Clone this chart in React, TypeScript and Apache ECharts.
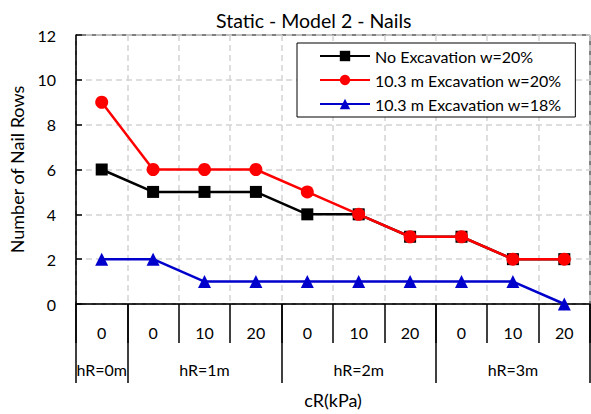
import { useEffect, useRef } from 'react';
import * as echarts from 'echarts';

// cR value under each point, and the hR group each run of points belongs to
const cRLabels = ['0', '0', '10', '20', '0', '10', '20', '0', '10', '20'];
const hRGroups = ['hR=0m', 'hR=1m', 'hR=2m', 'hR=3m'];
const hRBounds = [0, 1, 4, 7, 10];
const hRCenters = [0.5, 2.5, 5.5, 8.5];

const noExcavation20 = [6, 5, 5, 5, 4, 4, 3, 3, 2, 2];
const excavation20 = [9, 6, 6, 6, 5, 4, 3, 3, 2, 2];
const excavation18 = [2, 2, 1, 1, 1, 1, 1, 1, 1, 0];

const seriesNames = ['No Excavation w=20%', '10.3 m Excavation w=20%', '10.3 m Excavation w=18%'];

const FONT = 'Lato, "Noto Sans", sans-serif';

export default function App() {
  const ref = useRef<HTMLDivElement>(null);

  useEffect(() => {
    document.body.style.margin = '0';
    if (!ref.current) return;
    const chart = echarts.init(ref.current, undefined, { renderer: 'svg' });
    const keys = cRLabels.map((_, i) => String(i));

    chart.setOption({
      animation: false,
      backgroundColor: '#fff',
      textStyle: { fontFamily: FONT },
      title: {
        text: 'Static - Model 2 - Nails',
        left: 211,
        top: 5,
        textStyle: { fontFamily: FONT, fontSize: 19.5, fontWeight: 'normal', color: '#000' },
      },
      legend: {
        orient: 'vertical',
        left: 297,
        top: 43,
        padding: [5, 14, 5, 22],
        itemGap: 8,
        itemWidth: 50,
        itemHeight: 13,
        backgroundColor: '#fff',
        borderColor: '#000',
        borderWidth: 1,
        textStyle: { fontFamily: FONT, fontSize: 16, color: '#000' },
        data: seriesNames,
      },
      grid: {
        left: 75,
        right: 1,
        top: 35,
        bottom: 110,
        show: true,
        borderColor: '#000',
        borderWidth: 1,
        backgroundColor: 'transparent',
      },
      xAxis: [
        {
          type: 'category',
          data: keys,
          boundaryGap: true,
          name: 'cR(kPa)',
          nameLocation: 'middle',
          nameGap: 87,
          nameTextStyle: { fontFamily: FONT, fontSize: 18, color: '#000' },
          axisLine: { lineStyle: { color: '#000', width: 1.5 } },
          axisTick: { show: true, interval: 0, length: 39, lineStyle: { color: '#000', width: 1.5 } },
          axisLabel: {
            interval: 0,
            margin: 20,
            fontFamily: FONT,
            fontSize: 16,
            color: '#000',
            formatter: (_v: string, i: number) => cRLabels[i],
          },
          splitLine: { show: true, interval: 0, lineStyle: { color: '#d4d4d4', type: [6, 4], width: 1.5 } },
        },
        {
          type: 'value',
          min: 0,
          max: 10,
          position: 'bottom',
          axisLine: { show: false },
          splitLine: { show: false },
          axisTick: {
            show: true,
            customValues: hRBounds,
            length: 79,
            lineStyle: { color: '#000', width: 1.5 },
          },
          axisLabel: {
            customValues: hRCenters,
            margin: 57,
            fontFamily: FONT,
            fontSize: 16,
            color: '#000',
            formatter: (v: number) => hRGroups[hRCenters.indexOf(v)] ?? '',
          },
        },
      ],
      yAxis: {
        type: 'value',
        min: 0,
        max: 12,
        interval: 2,
        name: 'Number of Nail Rows',
        nameLocation: 'middle',
        nameGap: 50,
        nameTextStyle: { fontFamily: FONT, fontSize: 18, color: '#000' },
        axisLine: { show: true, lineStyle: { color: '#000', width: 1.5 } },
        axisTick: { show: true, inside: true, length: 6, lineStyle: { color: '#000', width: 1.5 } },
        axisLabel: { margin: 20, fontFamily: FONT, fontSize: 16, color: '#000' },
        splitLine: { show: true, lineStyle: { color: '#d4d4d4', type: [6, 4], width: 1.5 } },
      },
      series: [
        {
          name: seriesNames[0],
          type: 'line',
          data: noExcavation20,
          symbol: 'rect',
          symbolSize: 12,
          color: '#000',
          lineStyle: { color: '#000', width: 2.5 },
          itemStyle: { color: '#000' },
          z: 2,
        },
        {
          name: seriesNames[1],
          type: 'line',
          data: excavation20,
          symbol: 'circle',
          symbolSize: 13,
          color: '#ff0000',
          lineStyle: { color: '#ff0000', width: 2.5 },
          itemStyle: { color: '#ff0000' },
          z: 3,
        },
        {
          name: seriesNames[2],
          type: 'line',
          data: excavation18,
          symbol: 'triangle',
          symbolSize: 13,
          color: '#0000cc',
          lineStyle: { color: '#0000cc', width: 2.5 },
          itemStyle: { color: '#0000cc' },
          z: 4,
        },
      ],
    });

    return () => chart.dispose();
  }, []);

  return <div ref={ref} style={{ width: 591, height: 414 }} />;
}
